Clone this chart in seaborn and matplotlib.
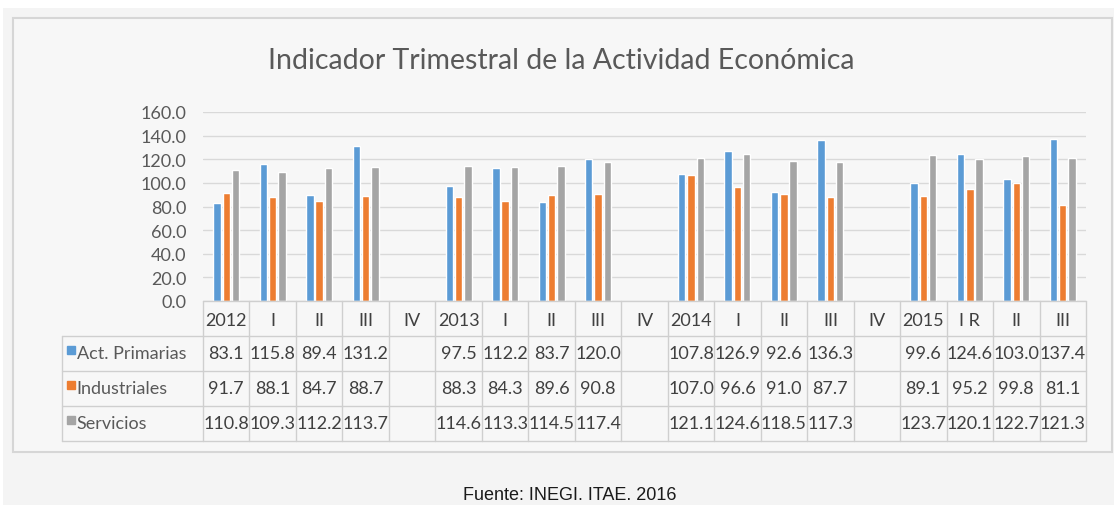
import pandas as pd
import seaborn as sns
import matplotlib.pyplot as plt
import matplotlib.patches as mpatches
import numpy as np

periodos = ['2012', 'I', 'II', 'III', 'IV',
            '2013', 'I', 'II', 'III', 'IV',
            '2014', 'I', 'II', 'III', 'IV',
            '2015', 'I R', 'II', 'III']

series = ['Act. Primarias', 'Industriales', 'Servicios']

primarias = [83.1, 115.8, 89.4, 131.2, np.nan,
             97.5, 112.2, 83.7, 120.0, np.nan,
             107.8, 126.9, 92.6, 136.3, np.nan,
             99.6, 124.6, 103.0, 137.4]
industriales = [91.7, 88.1, 84.7, 88.7, np.nan,
                88.3, 84.3, 89.6, 90.8, np.nan,
                107.0, 96.6, 91.0, 87.7, np.nan,
                89.1, 95.2, 99.8, 81.1]
servicios = [110.8, 109.3, 112.2, 113.7, np.nan,
             114.6, 113.3, 114.5, 117.4, np.nan,
             121.1, 124.6, 118.5, 117.3, np.nan,
             123.7, 120.1, 122.7, 121.3]

colores = ['#5B9BD5', '#ED7D31', '#A5A5A5']

# claves unicas para cada columna (los nombres I, II, III se repiten)
claves = [f'{i:02d}' for i in range(len(periodos))]

rows = []
for nombre, valores in zip(series, [primarias, industriales, servicios]):
    for k, v in zip(claves, valores):
        rows.append({'periodo': k, 'serie': nombre, 'valor': v})
df = pd.DataFrame(rows).dropna()

sns.set_style('white')
plt.rcParams['font.family'] = ['Lato', 'DejaVu Sans']

W, H = 1114, 506
fig = plt.figure(figsize=(W / 100, H / 100), dpi=100)
fig.patch.set_facecolor('#f4f4f4')

def px(x0, y0, x1, y1):
    # rect in figure fraction from pixel box
    return [x0 / W, 1 - y1 / H, (x1 - x0) / W, (y1 - y0) / H]

# white strips at top / left like the screenshot
fig.add_artist(mpatches.Rectangle((0, 1 - 9 / H), 1, 9 / H, transform=fig.transFigure,
                                  facecolor='white', edgecolor='none', zorder=0))
fig.add_artist(mpatches.Rectangle((0, 0), 3 / W, 1, transform=fig.transFigure,
                                  facecolor='white', edgecolor='none', zorder=0))
# chart frame
b = px(13, 19, 1112, 453)
fig.add_artist(mpatches.Rectangle((b[0], b[1]), b[2], b[3], transform=fig.transFigure,
                                  facecolor='#f7f7f7', edgecolor='#d6d6d6', lw=1.5, zorder=0))

ax = fig.add_axes(px(203, 113, 1086, 302))
ax.patch.set_alpha(0)
sns.barplot(data=df, x='periodo', y='valor', hue='serie', order=claves, hue_order=series,
            palette=colores, width=0.6, gap=0.2, errorbar=None, legend=False, ax=ax,
            saturation=1, zorder=3)
ax.set_ylim(0, 160)
ax.set_xlim(-0.5, len(claves) - 0.5)
ax.set_yticks(np.arange(0, 161, 20))
ax.set_yticklabels([f'{t:.1f}' for t in np.arange(0, 161, 20)], color='#595959', fontsize=13)
ax.tick_params(axis='y', length=0, pad=12)
ax.set_xticks([])
ax.set_xlabel('')
ax.set_ylabel('')
ax.grid(axis='y', color='#d9d9d9', lw=1, zorder=0)
for s in ax.spines.values():
    s.set_visible(False)

# data table under the bars
ncol = len(claves)
cw = 883 / ncol
left = -0.5 - (203 - 62) / cw
tx = fig.add_axes(px(62, 302, 1086, 442))
tx.set_xlim(left, ncol - 0.5)
tx.set_ylim(4, 0)
tx.axis('off')
lc = '#cfcfcf'
for k in range(ncol + 1):
    tx.plot([k - 0.5, k - 0.5], [0, 4], color=lc, lw=1, clip_on=False)
tx.plot([left, left], [1, 4], color=lc, lw=1, clip_on=False)
tx.plot([-0.5, ncol - 0.5], [0, 0], color=lc, lw=1, clip_on=False)
for r in range(1, 5):
    tx.plot([left, ncol - 0.5], [r, r], color=lc, lw=1, clip_on=False)

tc = '#404040'
for i, p in enumerate(periodos):
    tx.text(i, 0.55, p, ha='center', va='center', fontsize=13, color=tc)

for r, (nombre, valores, c) in enumerate(zip(series, [primarias, industriales, servicios], colores)):
    y = r + 1.5
    tx.plot([left + 0.19], [y - 0.1], marker='s', ms=6, color=c, clip_on=False)
    tx.text(left + 0.32, y, nombre, ha='left', va='center', fontsize=13, color='#595959')
    for i, v in enumerate(valores):
        if not np.isnan(v):
            tx.text(i, y, f'{v:.1f}', ha='center', va='center', fontsize=13, color=tc)

fig.text(561 / W, 1 - 61 / H, 'Indicador Trimestral de la Actividad Económica',
         ha='center', va='center', fontsize=20.5, color='#595959')

fig.text(570 / W, 1 - 496 / H, 'Fuente: INEGI. ITAE. 2016', ha='center', va='center',
         fontsize=13, color='#1a1a1a', family=['Liberation Sans', 'DejaVu Sans'])

fig.savefig('out.png', dpi=100, facecolor=fig.get_facecolor())
